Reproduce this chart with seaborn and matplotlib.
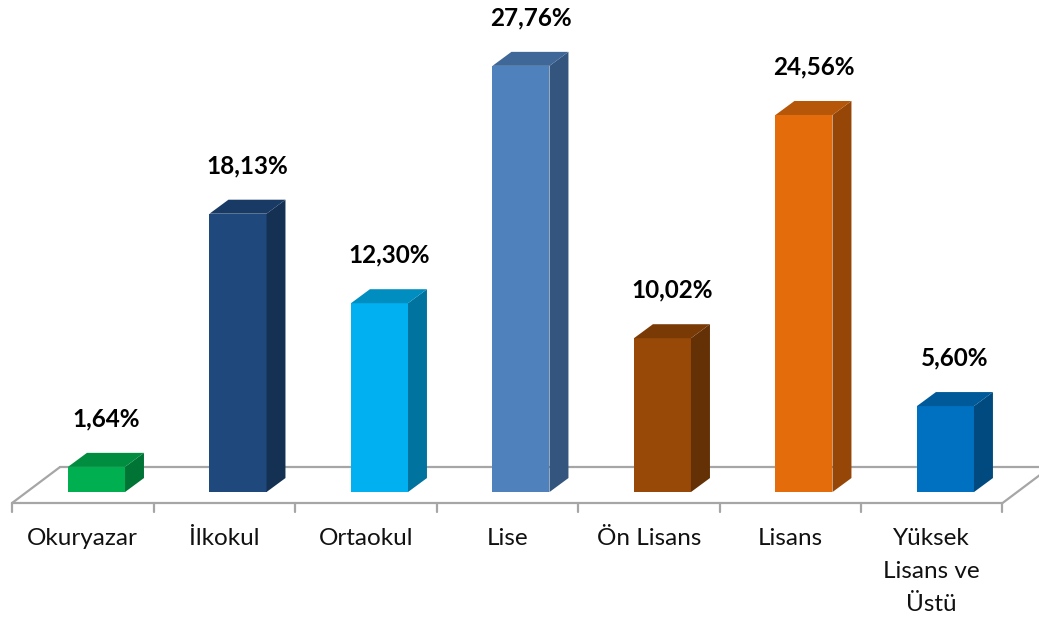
import numpy as np
import pandas as pd
import matplotlib.pyplot as plt
import seaborn as sns
from matplotlib.patches import Polygon
from matplotlib.colors import to_rgb

# Datos: nivel educativo (%)
categories = ['Okuryazar', 'İlkokul', 'Ortaokul', 'Lise', 'Ön Lisans', 'Lisans',
              'Yüksek\nLisans ve\nÜstü']
values = [1.64, 18.13, 12.30, 27.76, 10.02, 24.56, 5.60]
colors = ['#00B050', '#1F497D', '#00B0F0', '#4F81BD', '#984807', '#E46C0A', '#0070C0']

df = pd.DataFrame({'nivel': categories, 'pct': values})

sns.set_style('white')
plt.rcParams['font.family'] = ['Lato', 'DejaVu Sans']

fig = plt.figure(figsize=(10.39, 6.19), dpi=100, facecolor='white')
ax = fig.add_axes([0, 0, 1, 1])

bar_w = 0.403
sns.barplot(data=df, x='nivel', y='pct', hue='nivel', palette=colors, legend=False,
            width=bar_w, saturation=1, linewidth=0, ax=ax, zorder=3)

ax.set_xlim(-0.682, 6.661)
ax.set_ylim(-8.27, 32.05)
ax.axis('off')

# Profundidad 3D (en unidades de datos)
dx, dy = 0.134, 0.912
for p, c in zip(ax.patches, colors):
    x0, y0 = p.get_x(), p.get_y()
    w, h = p.get_width(), p.get_height()
    base = np.array(to_rgb(c))
    side = Polygon([(x0 + w, y0), (x0 + w + dx, y0 + dy), (x0 + w + dx, y0 + h + dy), (x0 + w, y0 + h)],
                   closed=True, facecolor=base * 0.66, edgecolor='none', zorder=3)
    top = Polygon([(x0, y0 + h), (x0 + dx, y0 + h + dy), (x0 + w + dx, y0 + h + dy), (x0 + w, y0 + h)],
                  closed=True, facecolor=base * 0.8, edgecolor='none', zorder=3)
    ax.add_patch(side)
    ax.add_patch(top)
    ax.annotate(f'{h:.2f}%'.replace('.', ','), (x0 + w / 2 + dx / 2, h),
                xytext=(0, 48), textcoords='offset pixels', ha='center', va='center',
                fontsize=17.5, fontweight='bold', color='black')

# Piso (plano base)
n = len(categories)
left = -0.5 - 0.097
right = left + n
fy = -0.717
bdx, bdy = 0.339, 2.345
floor_col = '#a6a6a6'
ax.plot([left, right], [fy, fy], color=floor_col, lw=1.6, zorder=2)
ax.plot([left + bdx, right + bdx], [fy + bdy, fy + bdy], color=floor_col, lw=1.6, zorder=1)
ax.plot([left, left + bdx], [fy, fy + bdy], color=floor_col, lw=1.6, zorder=1)
ax.plot([right, right + bdx], [fy, fy + bdy], color=floor_col, lw=1.6, zorder=1)
for k in range(n + 1):
    ax.plot([left + k, left + k], [fy, fy - 0.6], color=floor_col, lw=1.6, zorder=2)

for i, lab in enumerate(categories):
    ax.text(left + i + 0.5, -2.35, lab, ha='center', va='top', fontsize=17.5,
            color='#111111', linespacing=1.7)

plt.savefig('out.png', dpi=100, facecolor='white')
